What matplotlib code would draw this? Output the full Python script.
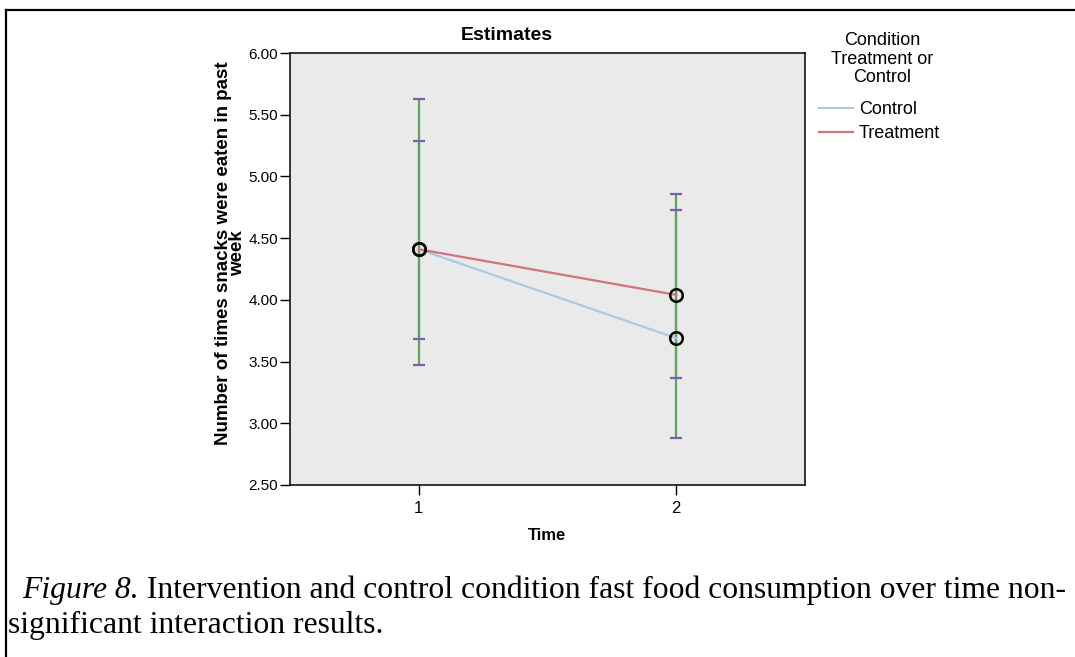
import matplotlib
matplotlib.use("Agg")
import matplotlib.pyplot as plt
from matplotlib.lines import Line2D

# ---- data ----
time_points = [1, 2]
time_labels = ["1", "2"]
series_names = ["Control", "Treatment"]
control_mean = [4.41, 3.69]
treatment_mean = [4.41, 4.04]
control_lower = [3.47, 2.88]
control_upper = [5.63, 4.86]
treatment_lower = [3.68, 3.37]
treatment_upper = [5.29, 4.73]
y_ticks = [2.5, 3.0, 3.5, 4.0, 4.5, 5.0, 5.5, 6.0]

W, H = 1075, 657
plt.rcParams['font.family'] = ['Liberation Sans', 'DejaVu Sans']
fig = plt.figure(figsize=(W / 100, H / 100), dpi=100)
fig.patch.set_facecolor('white')

ax = fig.add_axes([290 / W, 1 - 485 / H, (805 - 290) / W, (485 - 53) / H])
ax.set_facecolor('#EAEAEA')
ax.set_xlim(0.5, 2.5)
ax.set_ylim(2.5, 6.0)

green = '#5EA35E'
purple = '#7B5EB8'
col_control = '#A9CBE0'
col_treat = '#D2737C'

for means, lo, hi in [(control_mean, control_lower, control_upper),
                      (treatment_mean, treatment_lower, treatment_upper)]:
    yerr = [[m - l for m, l in zip(means, lo)], [h - m for m, h in zip(means, hi)]]
    _, caps, _ = ax.errorbar(time_points, means, yerr=yerr, fmt='none',
                             ecolor=green, elinewidth=1.6, capsize=4.3,
                             capthick=1.6, zorder=2)
    for c in caps:
        c.set_color(purple)
        c.set_markeredgecolor(purple)
        c.set_markerfacecolor(purple)
        c.set_zorder(2.5)

l1, = ax.plot(time_points, control_mean, color=col_control, lw=1.6, zorder=3)
l2, = ax.plot(time_points, treatment_mean, color=col_treat, lw=1.6, zorder=3)
for means in (control_mean, treatment_mean):
    ax.plot(time_points, means, 'o', ms=9, mfc='none', mec='black', mew=1.8, zorder=4)

ax.set_xticks(time_points)
ax.set_xticklabels(time_labels)
ax.set_yticks(y_ticks)
ax.set_yticklabels(["%.2f" % v for v in y_ticks])
ax.tick_params(axis='both', direction='out', length=7.3, width=1, colors='black',
               labelsize=11, pad=1.5)
ax.tick_params(axis='x', labelsize=12, pad=4)
for s in ax.spines.values():
    s.set_color('black')
    s.set_linewidth(1.1)

ax.set_ylabel("Number of times snacks were eaten in past\nweek", fontsize=13.5,
              fontweight='bold', linespacing=0.8, va='center', ha='center')
ax.yaxis.set_label_coords(-0.116, 0.536)
ax.set_xlabel("Time", fontsize=12, fontweight='bold', va='center')
ax.xaxis.set_label_coords(0.5, -0.116)

fig.text(507 / W, 1 - 35 / H, "Estimates", ha='center', va='center',
         fontsize=14, fontweight='bold')

# legend title and entries
fig.text(882 / W, 1 - 59 / H, "Condition\nTreatment or\nControl", ha='center',
         va='center', fontsize=13, linespacing=1.12, multialignment='center')
leg = fig.legend([l1, l2], series_names,
                 loc='upper left', bbox_to_anchor=(819 / W, 1 - 101 / H),
                 frameon=False, fontsize=13, borderpad=0,
                 borderaxespad=0, handlelength=1.9, handletextpad=0.3,
                 labelspacing=0.4)

# caption
serif = ['Liberation Serif', 'DejaVu Serif']
cap_fs = 22.8
t1 = fig.text(22 / W, 1 - 605 / H, "Figure 8.", fontsize=cap_fs, style='italic',
              family=serif, va='bottom')
ax.annotate(" Intervention and control condition fast food consumption over time non-",
            xy=(1, 0), xycoords=t1, fontsize=cap_fs, family=serif, va='bottom',
            ha='left', annotation_clip=False)
fig.text(8 / W, 1 - 640 / H, "significant interaction results.", fontsize=cap_fs,
         family=serif, va='bottom')

# page border lines
fig.add_artist(Line2D([6 / W, 1], [1 - 10 / H, 1 - 10 / H], color='black', lw=1.6,
                      transform=fig.transFigure))
fig.add_artist(Line2D([6 / W, 6 / W], [0, 1 - 10 / H], color='black', lw=1.6,
                      transform=fig.transFigure))

fig.savefig("out.png", dpi=100)
